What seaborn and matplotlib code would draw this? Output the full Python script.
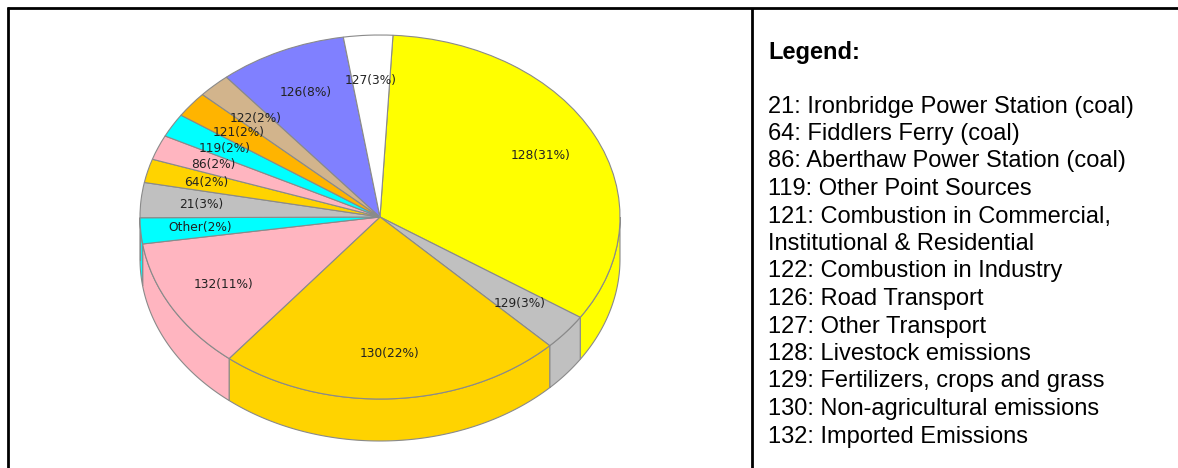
import numpy as np
import matplotlib
matplotlib.use("Agg")
import matplotlib.pyplot as plt
from matplotlib.patches import Polygon
import seaborn as sns

# ---------------- data ----------------
codes = ["128", "129", "130", "132", "Other", "21", "64", "86",
         "119", "121", "122", "126", "127"]
shares = [33.4, 3.2, 23.3, 11.8, 2.3, 3.1, 2.1, 2.2, 2.1, 2.3, 2.2, 8.6, 3.3]
pct_labels = [31, 3, 22, 11, 2, 3, 2, 2, 2, 2, 2, 8, 3]
colors = ["#FFFF00", "#C0C0C0", "#FFD300", "#FFB5C0", "#00FFFF", "#C0C0C0",
          "#FFD300", "#FFB5C0", "#00FFFF", "#FFB400", "#D2B48C", "#8080FF",
          "#FFFFFF"]
legend_title = "Legend:"
legend_lines = [
    "21: Ironbridge Power Station (coal)",
    "64: Fiddlers Ferry (coal)",
    "86: Aberthaw Power Station (coal)",
    "119: Other Point Sources",
    "121: Combustion in Commercial,",
    "Institutional & Residential",
    "122: Combustion in Industry",
    "126: Road Transport",
    "127: Other Transport",
    "128: Livestock emissions",
    "129: Fertilizers, crops and grass",
    "130: Non-agricultural emissions",
    "132: Imported Emissions",
]

# ---------------- style ----------------
sns.set_theme(style="white")
plt.rcParams["font.family"] = ["DejaVu Sans"]

W, H = 1178, 468
fig = plt.figure(figsize=(W / 100, H / 100), dpi=100)
fig.patch.set_facecolor("white")

# background axes in pixel coordinates for frame + legend text
bg = fig.add_axes([0, 0, 1, 1])
bg.set_xlim(0, W)
bg.set_ylim(H, 0)
bg.axis("off")
frame_kw = dict(color="black", lw=2.0, solid_capstyle="butt")
bg.plot([7, W], [8, 8], **frame_kw)
bg.plot([8, 8], [7, H], **frame_kw)
bg.plot([752, 752], [8, H], **frame_kw)

bg.text(768, 52, legend_title, fontsize=17, fontweight="bold",
        family="Liberation Sans", va="center", ha="left", color="black")
y0, dy = 106.5, 27.5
for i, line in enumerate(legend_lines):
    bg.text(768, y0 + i * dy, line, fontsize=17, family="Liberation Sans",
            va="center", ha="left", color="black")

# ---------------- 3D-looking pie ----------------
cx, cy, rx, ry = 380, 217, 240, 182
xl = (-1.25, 1.25)
yl = (-1.45, 1.18)
left_px = cx + xl[0] * rx
width_px = (xl[1] - xl[0]) * rx
top_px = cy - yl[1] * ry
height_px = (yl[1] - yl[0]) * ry
ax = fig.add_axes([left_px / W, 1 - (top_px + height_px) / H,
                   width_px / W, height_px / H])
ax.patch.set_alpha(0)

labels = [f"{c}({p}%)" for c, p in zip(codes, pct_labels)]
edge = "#8a8a8a"
wedges, texts = ax.pie(
    shares, colors=colors, labels=labels, startangle=90 - 3.1,
    counterclock=False, labeldistance=0.75,
    wedgeprops=dict(edgecolor=edge, linewidth=0.8),
    textprops=dict(fontsize=8.8, ha="center", va="center", color="#222222"),
)
for t in texts:
    t.set_zorder(5)

depth = 42 / ry
for w, col in zip(wedges, colors):
    t1, t2 = w.theta1, w.theta2
    for k in (-2, -1, 0, 1):
        a = max(t1, 180 + 360 * k)
        b = min(t2, 360 + 360 * k)
        if b > a:
            th = np.radians(np.linspace(a, b, 120))
            xs, ys = np.cos(th), np.sin(th)
            pts = np.column_stack([np.r_[xs, xs[::-1]],
                                   np.r_[ys, ys[::-1] - depth]])
            ax.add_patch(Polygon(pts, closed=True, facecolor=col,
                                 edgecolor=edge, linewidth=0.8, zorder=0.5))

ax.set_aspect("auto")
ax.set_xlim(*xl)
ax.set_ylim(*yl)
ax.axis("off")

fig.savefig("out.png", dpi=100, facecolor="white")
